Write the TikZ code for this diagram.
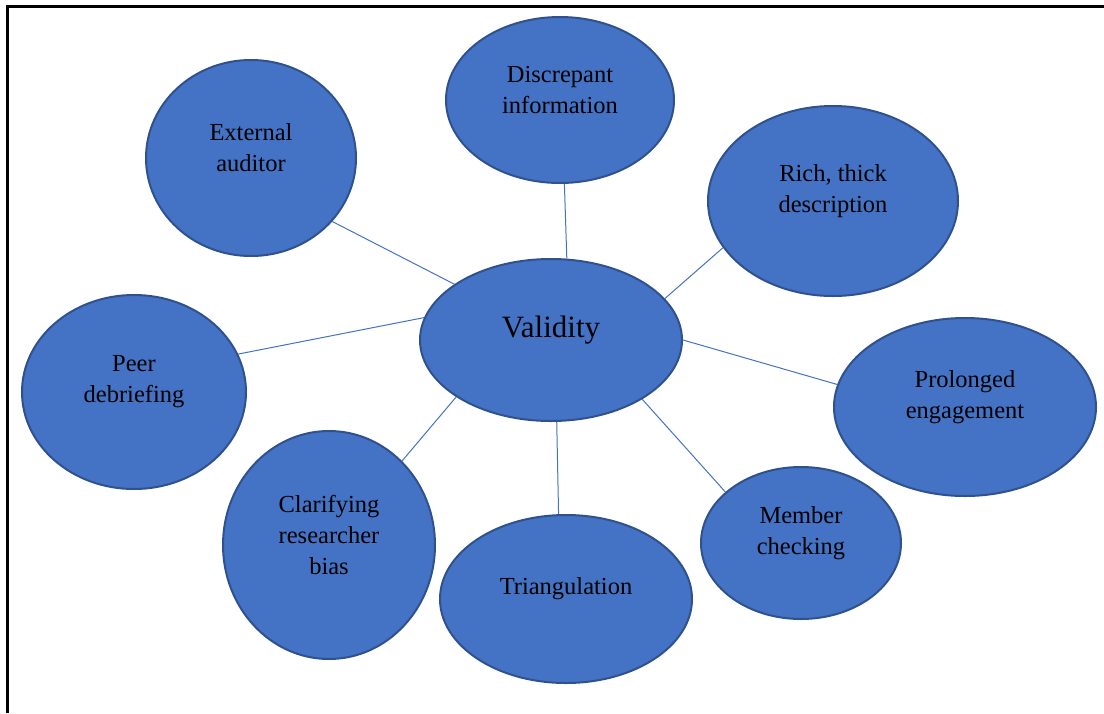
\documentclass[tikz,border=0pt]{standalone}
\usepackage{fontspec}
\setmainfont{Liberation Serif}
\usetikzlibrary{shapes.geometric}
\definecolor{bubblefill}{HTML}{4472C4}
\definecolor{bubbleedge}{HTML}{2F528F}
\tikzset{
  bubble/.style={ellipse, fill=bubblefill, draw=bubbleedge, line width=2pt, inner sep=0pt},
  bubbletext/.style={align=center, font=\fontsize{24.5}{31}\selectfont, text=black},
  link/.style={draw=bubblefill, line width=1pt},
}
\begin{document}
\begin{tikzpicture}[x=1pt, y=-1pt]
  \useasboundingbox (0,0) rectangle (1104,713);
  % frame on top and left
  \draw[line width=2.5pt] (7.5,713) -- (7.5,6.5) -- (1104,6.5);

  % bubbles: centre, width, height
  \node[bubble, minimum width=262pt, minimum height=162pt] (val) at (551,340) {};
  \node[bubble, minimum width=210pt, minimum height=196pt] (ext) at (251,158) {};
  \node[bubble, minimum width=228pt, minimum height=166pt] (dis) at (560,100) {};
  \node[bubble, minimum width=250pt, minimum height=190pt] (rich) at (833,201) {};
  \node[bubble, minimum width=224pt, minimum height=194pt] (peer) at (134,392) {};
  \node[bubble, minimum width=262pt, minimum height=178pt] (pro) at (965,407) {};
  \node[bubble, minimum width=212pt, minimum height=228pt] (cla) at (329,545) {};
  \node[bubble, minimum width=252pt, minimum height=168pt] (tri) at (566,599) {};
  \node[bubble, minimum width=200pt, minimum height=152pt] (mem) at (801,543) {};

  % labels, set a little above each centre
  \node[bubbletext, font=\fontsize{31}{36}\selectfont] (valt) at ([yshift=10pt]val.center) {Validity};
  \node[bubbletext] (extt) at ([yshift=10pt]ext.center) {External\\auditor};
  \node[bubbletext] (dist) at ([yshift=10pt]dis.center) {Discrepant\\information};
  \node[bubbletext] (richt) at ([yshift=10pt]rich.center) {Rich, thick\\description};
  \node[bubbletext] (peert) at ([yshift=10pt]peer.center) {Peer\\debriefing};
  \node[bubbletext] (prot) at ([yshift=10pt]pro.center) {Prolonged\\engagement};
  \node[bubbletext] (clat) at ([yshift=10pt]cla.center) {Clarifying\\researcher\\bias};
  \node[bubbletext] (trit) at ([yshift=10pt]tri.center) {Triangulation};
  \node[bubbletext] (memt) at ([yshift=10pt]mem.center) {Member\\checking};

  % spokes
  \draw[link] (val.150) -- (ext.-38);
  \draw[link] (val.79.5) -- (dis.-87);
  \draw[link] (val.20) -- (rich.203);
  \draw[link] (val.170) -- (peer.20.6);
  \draw[link] (val.0.4) -- (pro.170);
  \draw[link] (val.-33) -- (mem.146);
  \draw[link] (val.-86.5) -- (tri.95.5);
  \draw[link] (val.211.7) -- (cla.49);
\end{tikzpicture}
\end{document}
